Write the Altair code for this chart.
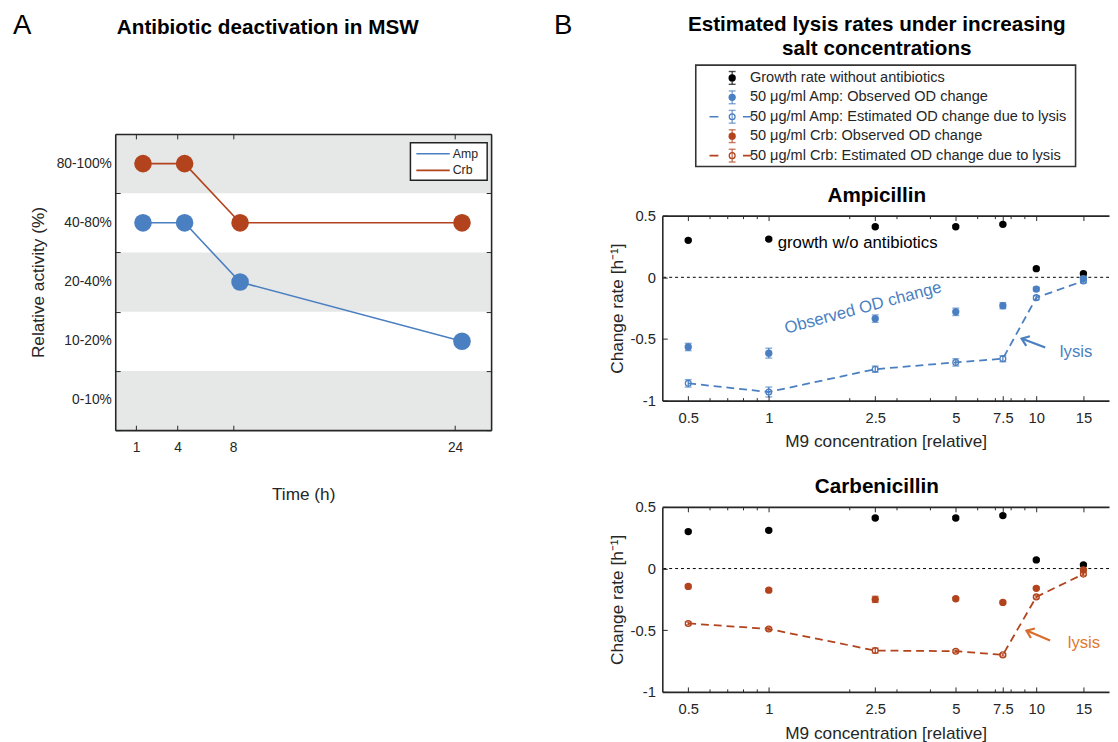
import altair as alt
import pandas as pd

FONT = "Liberation Sans"
INK = "#262626"
BLUE = "#4a7fc1"
RED = "#b2431c"
LYSIS_ORANGE = "#e07a30"
ARROW_ORANGE = "#d96b2b"
BAND_GRAY = "#e6e7e7"

# ---------------- Panel A data ----------------
activity_levels = ["80-100%", "40-80%", "20-40%", "10-20%", "0-10%"]
shaded_levels = ["80-100%", "20-40%", "0-10%"]
time_h = [1.5, 4.5, 8.5, 24.5]
amp_activity = ["40-80%", "40-80%", "20-40%", "10-20%"]
crb_activity = ["80-100%", "80-100%", "40-80%", "40-80%"]
time_ticks = [1, 4, 8, 24]
drugs = ["Amp", "Crb"]

# ---------------- Panel B data ----------------
m9_conc = [0.5, 1, 2.5, 5, 7.5, 10, 15]
growth_rate = [0.30, 0.31, 0.41, 0.41, 0.43, 0.07, 0.03]
growth_err = [0.01, 0.01, 0.01, 0.01, 0.01, 0.01, 0.01]
amp_obs = [-0.565, -0.615, -0.335, -0.28, -0.23, -0.095, -0.01]
amp_obs_err = [0.03, 0.04, 0.03, 0.03, 0.025, 0.015, 0.015]
amp_est = [-0.86, -0.93, -0.745, -0.69, -0.66, -0.165, -0.03]
amp_est_err = [0.03, 0.04, 0.025, 0.03, 0.025, 0.015, 0.015]
crb_obs = [-0.145, -0.175, -0.25, -0.245, -0.275, -0.16, -0.01]
crb_obs_err = [0.012, 0.012, 0.025, 0.01, 0.01, 0.01, 0.01]
crb_est = [-0.445, -0.49, -0.665, -0.67, -0.70, -0.23, -0.045]
crb_est_err = [0.012, 0.012, 0.02, 0.01, 0.01, 0.01, 0.01]
m9_ticks = [0.5, 1, 2.5, 5, 7.5, 10, 15]
m9_minor_ticks = [0.6, 0.7, 0.8, 0.9, 2, 3, 4, 6, 7, 8, 9]
rate_ticks = [0.5, 0, -0.5, -1]
legend_labels = [
    "Growth rate without antibiotics",
    "50 \u03bcg/ml Amp: Observed OD change",
    "50 \u03bcg/ml Amp: Estimated OD change due to lysis",
    "50 \u03bcg/ml Crb: Observed OD change",
    "50 \u03bcg/ml Crb: Estimated OD change due to lysis",
]


# ---------------- axis helpers ----------------
def axis(orient, **kw):
    d = dict(orient=orient, title=None, grid=False, labels=False, ticks=False,
             domain=False, labelFont=FONT, titleFont=FONT, zindex=1,
             labelFlush=False, labelOverlap=False)
    d.update(kw)
    return alt.Axis(**d)


def tick_axis(orient, values=None, size=5, **kw):
    d = dict(ticks=True, tickSize=size, offset=-size, tickColor=INK, tickWidth=1)
    if values is not None:
        d["values"] = values
    d.update(kw)
    return axis(orient, **d)


def domain_axis(orient):
    return axis(orient, domain=True, domainColor=INK, domainWidth=1.6)


def text_at(x, y, text, size, weight="normal", align="left", color="black"):
    return alt.Chart(pd.DataFrame({"t": [text]})).mark_text(
        font=FONT, fontSize=size, fontWeight=weight, align=align,
        baseline="middle", color=color
    ).encode(text="t:N", x=alt.value(x), y=alt.value(y))


# ---------------- Panel A ----------------
W_A, H_A = 382, 301
xA = alt.Scale(domain=[-0.5, 26.6], nice=False, zero=False)
yA = alt.Scale(type="band", domain=activity_levels, paddingInner=0, paddingOuter=0)
cA = alt.Scale(domain=drugs, range=[BLUE, RED])

dfA = pd.DataFrame({
    "time": time_h + time_h,
    "level": amp_activity + crb_activity,
    "drug": [drugs[0]] * len(time_h) + [drugs[1]] * len(time_h),
})
bands = pd.DataFrame({"level": shaded_levels})

a_rect = alt.Chart(bands).mark_rect(color=BAND_GRAY).encode(
    y=alt.Y("level:N", scale=yA, axis=axis(
        "left", labels=True, domain=True, domainColor=INK, domainWidth=1.6,
        labelFontSize=14, labelColor=INK, labelPadding=4,
        title="Relative activity (%)", titleFontSize=17.5, titleFontWeight="normal",
        titleColor=INK, titlePadding=9)),
    x=alt.value(0), x2=alt.value(W_A),
)

a_line = alt.Chart(dfA).mark_line(strokeWidth=1.6).encode(
    x=alt.X("time:Q", scale=xA, axis=axis(
        "bottom", labels=True, values=time_ticks, format="d", domain=True,
        domainColor=INK, domainWidth=1.6, labelFontSize=14, labelColor=INK,
        labelPadding=11, title="Time (h)", titleFontSize=17.5,
        titleFontWeight="normal", titleColor=INK, titlePadding=31)),
    y=alt.Y("level:N", scale=yA, axis=tick_axis("left", tickBand="extent")),
    color=alt.Color("drug:N", scale=cA, legend=None),
)

a_pts = alt.Chart(dfA).mark_circle(size=320, opacity=1).encode(
    x=alt.X("time:Q", scale=xA, axis=tick_axis("bottom", values=time_ticks)),
    y=alt.Y("level:N", scale=yA, axis=tick_axis("right", tickBand="extent")),
    color=alt.Color("drug:N", scale=cA, legend=None),
)

a_frame1 = alt.Chart(dfA).mark_point(opacity=0).encode(
    x=alt.X("time:Q", scale=xA, axis=tick_axis("top", values=time_ticks)),
    y=alt.Y("level:N", scale=yA, axis=domain_axis("right")),
)
a_frame2 = alt.Chart(dfA).mark_point(opacity=0).encode(
    x=alt.X("time:Q", scale=xA, axis=domain_axis("top")),
    y=alt.Y("level:N", scale=yA, axis=None),
)

# legend box of panel A (drawn inside the plot, top-right)
a_legend = [
    alt.Chart(pd.DataFrame({"a": [0]})).mark_rect(
        fill="white", stroke="#222222", strokeWidth=1.5
    ).encode(x=alt.value(300), x2=alt.value(378), y=alt.value(9), y2=alt.value(47))
]
for i, (drug, col) in enumerate(zip(drugs, [BLUE, RED])):
    a_legend.append(alt.Chart(pd.DataFrame({"a": [0]})).mark_rule(
        color=col, strokeWidth=1.6
    ).encode(x=alt.value(306), x2=alt.value(340), y=alt.value(20 + 17 * i)))
    a_legend.append(text_at(343, 20 + 17 * i, drug, 12.5, color=INK))

panel_a = alt.layer(
    a_rect, a_line, a_pts, a_frame1, a_frame2, *a_legend
).resolve_axis(x="independent", y="independent").properties(width=W_A, height=H_A)

a_head = alt.layer(
    text_at(-104, -40, "A", 28),
    text_at(155, -38, "Antibiotic deactivation in MSW", 21, weight="bold", align="center"),
).properties(width=W_A, height=1)

col_a = alt.vconcat(a_head, panel_a, spacing=69, bounds="flush")

# ---------------- Panel B ----------------
W_B, H_B, H_L = 454, 188, 45
xB = alt.Scale(type="log", domain=[0.4, 18.7], nice=False)
yB = alt.Scale(domain=[-1, 0.5], nice=False, zero=False)

X_AXES = [
    axis("bottom", labels=True, values=m9_ticks, labelExpr="'' + datum.value",
         ticks=True, tickSize=5, offset=-5, tickColor=INK, labelFontSize=15,
         labelColor=INK, labelPadding=10, title="M9 concentration [relative]",
         titleFontSize=17.5, titleFontWeight="normal", titleColor=INK, titlePadding=8),
    tick_axis("bottom", m9_minor_ticks, 3),
    domain_axis("bottom"),
    tick_axis("top", m9_ticks, 5),
    tick_axis("top", m9_minor_ticks, 3),
    domain_axis("top"),
]
Y_AXES = [
    axis("left", labels=True, values=rate_ticks, labelExpr="'' + datum.value",
         ticks=True, tickSize=5, offset=-5, tickColor=INK, labelFontSize=15,
         labelColor=INK, labelPadding=7, title="Change rate [h\u207b\u00b9]",
         titleFontSize=17.5, titleFontWeight="normal", titleColor=INK, titlePadding=4),
    domain_axis("left"),
]


def note(x, y, text, color, size=17, angle=0, align="left"):
    return alt.Chart(pd.DataFrame({"x": [x], "y": [y], "t": [text]})).mark_text(
        font=FONT, fontSize=size, color=color, align=align, baseline="middle", angle=angle
    ).encode(x=alt.X("x:Q", scale=xB, axis=None),
             y=alt.Y("y:Q", scale=yB, axis=None), text="t:N")


def arrow(tail, head, color, angle):
    seg = alt.Chart(pd.DataFrame({"x": [tail[0]], "y": [tail[1]],
                                  "x2": [head[0]], "y2": [head[1]]})).mark_rule(
        color=color, strokeWidth=2.2
    ).encode(x=alt.X("x:Q", scale=xB, axis=None), x2="x2:Q",
             y=alt.Y("y:Q", scale=yB, axis=None), y2="y2:Q")
    tip = alt.Chart(pd.DataFrame({"x": [head[0]], "y": [head[1]]})).mark_point(
        shape="M-1,-0.75L0,0L-1,0.75", filled=False, size=200, strokeWidth=2.2,
        color=color, opacity=1, angle=angle
    ).encode(x=alt.X("x:Q", scale=xB, axis=None), y=alt.Y("y:Q", scale=yB, axis=None))
    return [seg, tip]


def rate_panel(title, obs, obs_err, est, est_err, color, notes):
    df = pd.DataFrame({
        "m9": m9_conc,
        "g": growth_rate,
        "g_lo": [v - e for v, e in zip(growth_rate, growth_err)],
        "g_hi": [v + e for v, e in zip(growth_rate, growth_err)],
        "obs": obs,
        "o_lo": [v - e for v, e in zip(obs, obs_err)],
        "o_hi": [v + e for v, e in zip(obs, obs_err)],
        "est": est,
        "e_lo": [v - e for v, e in zip(est, est_err)],
        "e_hi": [v + e for v, e in zip(est, est_err)],
    })
    base = alt.Chart(df)
    xa = iter(X_AXES)
    ya = iter(Y_AXES)

    def X():
        return alt.X("m9:Q", scale=xB, axis=next(xa, None))

    def Y(f):
        return alt.Y(f + ":Q", scale=yB, axis=next(ya, None))

    layers = [
        alt.Chart(pd.DataFrame({"zero": [0]})).mark_rule(
            color="black", strokeDash=[3, 3], strokeWidth=1
        ).encode(y=alt.Y("zero:Q", scale=yB, axis=None)),
        base.mark_line(color=color, strokeDash=[8, 5], strokeWidth=1.8).encode(x=X(), y=Y("est")),
    ]
    for lo, hi, col in [("g_lo", "g_hi", "black"), ("o_lo", "o_hi", color), ("e_lo", "e_hi", color)]:
        layers.append(base.mark_rule(color=col, strokeWidth=1.3).encode(
            x=X(), y=Y(lo), y2=alt.Y2(hi + ":Q")))
        layers.append(base.mark_tick(orient="horizontal", size=7, thickness=1.3, color=col).encode(
            x=X(), y=Y(lo)))
        layers.append(base.mark_tick(orient="horizontal", size=7, thickness=1.3, color=col).encode(
            x=X(), y=Y(hi)))
    layers.append(base.mark_circle(size=55, color="black", opacity=1).encode(x=X(), y=Y("g")))
    layers.append(base.mark_circle(size=55, color=color, opacity=1).encode(x=X(), y=Y("obs")))
    layers.append(base.mark_point(shape="circle", filled=False, size=35, strokeWidth=1.3,
                                  color=color, opacity=1).encode(x=X(), y=Y("est")))
    layers += notes
    layers.append(text_at(218, -20, title, 21, weight="bold", align="center"))
    return alt.layer(*layers).resolve_axis(x="independent", y="independent").properties(
        width=W_B, height=H_B)


amp_panel = rate_panel(
    "Ampicillin", amp_obs, amp_obs_err, amp_est, amp_est_err, BLUE,
    [note(1.08, 0.275, "growth w/o antibiotics", "black"),
     note(2.25, -0.249, "Observed OD change", BLUE, angle=345, align="center"),
     note(12.25, -0.61, "lysis", BLUE)]
    + arrow((10.8, -0.57), (8.81, -0.497), BLUE, 200.6),
)
crb_panel = rate_panel(
    "Carbenicillin", crb_obs, crb_obs_err, crb_est, crb_est_err, RED,
    [note(13.1, -0.607, "lysis", LYSIS_ORANGE)]
    + arrow((11.26, -0.583), (9.19, -0.503), ARROW_ORANGE, 202.6),
)

# ---------------- Panel B legend ----------------
leg_df = pd.DataFrame({"row": list(range(len(legend_labels))), "label": legend_labels})
yL = alt.Scale(domain=[0, 4], range=[13, 92])
cL = alt.Scale(domain=legend_labels, range=["black", BLUE, BLUE, RED, RED])
lbase = alt.Chart(leg_df).encode(
    y=alt.Y("row:Q", scale=yL, axis=None),
    color=alt.Color("label:N", scale=cL, legend=None),
)
open_rows = alt.FieldOneOfPredicate(field="row", oneOf=[2, 4])
filled_rows = alt.FieldOneOfPredicate(field="row", oneOf=[0, 1, 3])

legend_box = alt.Chart(pd.DataFrame({"a": [0]})).mark_rect(
    fill="white", stroke="#333333", strokeWidth=1.6
).encode(x=alt.value(34), x2=alt.value(420), y=alt.value(0), y2=alt.value(103))

legend_chart = alt.layer(
    legend_box,
    lbase.transform_filter(open_rows).mark_rule(strokeDash=[9, 25], strokeWidth=1.6).encode(
        x=alt.value(48), x2=alt.value(91)),
    lbase.mark_tick(orient="vertical", size=13, thickness=1.4).encode(x=alt.value(71)),
    lbase.mark_tick(orient="horizontal", size=7, thickness=1.4, yOffset=-6.5).encode(x=alt.value(71)),
    lbase.mark_tick(orient="horizontal", size=7, thickness=1.4, yOffset=6.5).encode(x=alt.value(71)),
    lbase.transform_filter(filled_rows).mark_circle(size=55, opacity=1).encode(x=alt.value(71)),
    lbase.transform_filter(open_rows).mark_point(filled=False, size=35, strokeWidth=1.3,
                                                 opacity=1).encode(x=alt.value(71)),
    alt.Chart(leg_df).mark_text(font=FONT, fontSize=14.8, align="left", baseline="middle",
                                color=INK).encode(
        y=alt.Y("row:Q", scale=yL, axis=None), x=alt.value(89), text="label:N"),
    text_at(-110, -40, "B", 28),
    text_at(218, -41, "Estimated lysis rates under increasing", 21, weight="bold", align="center"),
    text_at(218, -16, "salt concentrations", 21, weight="bold", align="center"),
).properties(width=W_B, height=H_L)

col_b = alt.vconcat(legend_chart, amp_panel, crb_panel, spacing=108, bounds="flush")

chart = alt.hconcat(col_a, col_b, spacing=63).resolve_scale(color="independent").properties(
    padding={"left": 5, "top": -2, "right": 0, "bottom": 0}
).configure_view(stroke=None)

chart.save("out.html", embed_options={"renderer": "svg", "actions": False})
